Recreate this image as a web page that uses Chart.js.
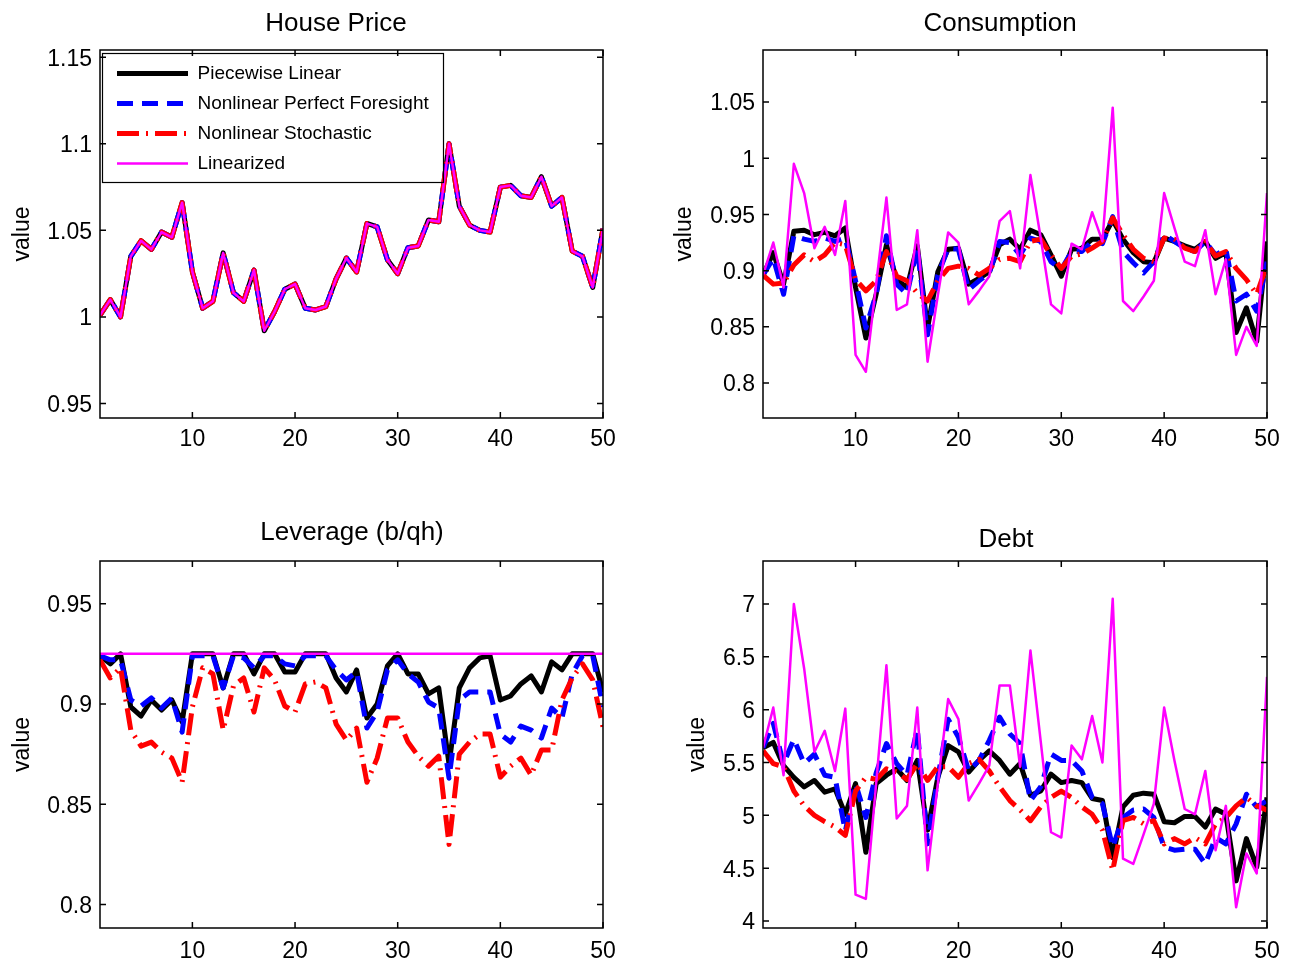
<!DOCTYPE html>
<html>
<head>
<meta charset="utf-8">
<title>Simulated paths</title>
<script src="https://cdn.jsdelivr.net/npm/chart.js@4.4.1/dist/chart.umd.min.js"></script>
<style>
    html, body { margin: 0; padding: 0; background: #fff; }
    #fig { position: relative; width: 1291px; height: 964px; overflow: hidden; }
    #fig canvas { position: absolute; }
</style>
</head>
<body>
<div id="fig">
    <canvas id="house" width="645" height="482" style="left:0px;top:0px"></canvas>
    <canvas id="cons" width="628" height="482" style="left:663px;top:0px"></canvas>
    <canvas id="lev" width="645" height="482" style="left:0px;top:482px"></canvas>
    <canvas id="debt" width="628" height="482" style="left:663px;top:482px"></canvas>
</div>
<script>
// simulation periods and tick labels
var periods = [1, 2, 3, 4, 5, 6, 7, 8, 9, 10, 11, 12, 13, 14, 15, 16, 17, 18, 19, 20,
    21, 22, 23, 24, 25, 26, 27, 28, 29, 30, 31, 32, 33, 34, 35, 36, 37, 38, 39, 40,
    41, 42, 43, 44, 45, 46, 47, 48, 49, 50];
var xTicks = [10, 20, 30, 40, 50];
var houseTicks = [0.95, 1, 1.05, 1.1, 1.15];
var consTicks = [0.8, 0.85, 0.9, 0.95, 1, 1.05];
var levTicks = [0.8, 0.85, 0.9, 0.95];
var debtTicks = [4, 4.5, 5, 5.5, 6, 6.5, 7];

var seriesNames = ['Piecewise Linear', 'Nonlinear Perfect Foresight', 'Nonlinear Stochastic', 'Linearized'];

// house price: the four solutions lie on top of each other
var housePrice = [1.001, 1.010, 1.000, 1.035, 1.044, 1.039, 1.049, 1.046, 1.066, 1.026,
    1.005, 1.009, 1.037, 1.014, 1.009, 1.027, 0.992, 1.003, 1.016, 1.019,
    1.005, 1.004, 1.006, 1.022, 1.034, 1.026, 1.054, 1.052, 1.033, 1.025,
    1.040, 1.041, 1.056, 1.055, 1.100, 1.064, 1.053, 1.050, 1.049, 1.075,
    1.076, 1.070, 1.069, 1.081, 1.064, 1.069, 1.038, 1.035, 1.017, 1.051];

// consumption
var consPiecewise = [0.896, 0.916, 0.888, 0.935, 0.936, 0.932, 0.934, 0.931, 0.938, 0.885,
    0.840, 0.879, 0.923, 0.892, 0.885, 0.922, 0.849, 0.899, 0.919, 0.920,
    0.888, 0.893, 0.899, 0.923, 0.928, 0.919, 0.936, 0.932, 0.914, 0.895,
    0.919, 0.920, 0.928, 0.928, 0.945, 0.928, 0.916, 0.908, 0.907, 0.929,
    0.926, 0.922, 0.919, 0.926, 0.911, 0.916, 0.845, 0.867, 0.837, 0.926];
var consPerfect = [0.896, 0.911, 0.879, 0.931, 0.928, 0.926, 0.929, 0.926, 0.929, 0.891,
    0.849, 0.879, 0.931, 0.888, 0.879, 0.920, 0.843, 0.896, 0.920, 0.919,
    0.883, 0.891, 0.898, 0.926, 0.925, 0.914, 0.929, 0.926, 0.908, 0.901,
    0.917, 0.917, 0.926, 0.924, 0.948, 0.917, 0.907, 0.898, 0.908, 0.932,
    0.926, 0.920, 0.917, 0.926, 0.914, 0.919, 0.873, 0.879, 0.864, 0.908];
var consStochastic = [0.896, 0.888, 0.889, 0.905, 0.914, 0.908, 0.914, 0.925, 0.923, 0.892,
    0.882, 0.891, 0.917, 0.895, 0.891, 0.880, 0.873, 0.891, 0.902, 0.904,
    0.902, 0.896, 0.902, 0.910, 0.911, 0.908, 0.926, 0.928, 0.914, 0.902,
    0.913, 0.915, 0.920, 0.926, 0.947, 0.932, 0.919, 0.911, 0.908, 0.929,
    0.928, 0.920, 0.917, 0.926, 0.913, 0.917, 0.902, 0.892, 0.879, 0.905];
var consLinearized = [0.896, 0.925, 0.885, 0.995, 0.969, 0.920, 0.939, 0.914, 0.962, 0.825,
    0.810, 0.888, 0.965, 0.865, 0.870, 0.936, 0.819, 0.878, 0.934, 0.925,
    0.870, 0.882, 0.895, 0.944, 0.953, 0.902, 0.985, 0.929, 0.870, 0.862,
    0.924, 0.919, 0.952, 0.926, 1.045, 0.873, 0.864, 0.877, 0.891, 0.969,
    0.938, 0.908, 0.904, 0.936, 0.879, 0.910, 0.825, 0.850, 0.833, 0.969];

// leverage (b/qh)
var levPiecewise = [0.924, 0.920, 0.925, 0.8985, 0.894, 0.902, 0.897, 0.902, 0.891, 0.925,
    0.925, 0.925, 0.908, 0.925, 0.925, 0.915, 0.925, 0.925, 0.916, 0.916,
    0.925, 0.925, 0.925, 0.913, 0.906, 0.917, 0.893, 0.900, 0.919, 0.925,
    0.915, 0.915, 0.905, 0.908, 0.870, 0.908, 0.918, 0.923, 0.924, 0.902,
    0.904, 0.910, 0.914, 0.906, 0.921, 0.917, 0.925, 0.925, 0.925, 0.906];
var levPerfect = [0.924, 0.922, 0.922, 0.902, 0.899, 0.903, 0.898, 0.903, 0.886, 0.924,
    0.924, 0.924, 0.908, 0.924, 0.923, 0.918, 0.924, 0.924, 0.920, 0.919,
    0.924, 0.924, 0.924, 0.917, 0.912, 0.916, 0.888, 0.896, 0.917, 0.922,
    0.915, 0.911, 0.901, 0.898, 0.863, 0.902, 0.906, 0.906, 0.906, 0.885,
    0.881, 0.889, 0.887, 0.883, 0.898, 0.893, 0.915, 0.924, 0.924, 0.8985];
var levStochastic = [0.922, 0.913, 0.918, 0.887, 0.879, 0.881, 0.876, 0.873, 0.861, 0.8985,
    0.918, 0.915, 0.887, 0.909, 0.913, 0.896, 0.918, 0.912, 0.899, 0.896,
    0.910, 0.911, 0.908, 0.890, 0.882, 0.888, 0.861, 0.873, 0.893, 0.893,
    0.881, 0.874, 0.869, 0.874, 0.830, 0.875, 0.881, 0.885, 0.885, 0.8635,
    0.869, 0.873, 0.8645, 0.877, 0.877, 0.902, 0.913, 0.920, 0.912, 0.8885];
var levLinearized = [0.925, 0.925, 0.925, 0.925, 0.925, 0.925, 0.925, 0.925, 0.925, 0.925,
    0.925, 0.925, 0.925, 0.925, 0.925, 0.925, 0.925, 0.925, 0.925, 0.925,
    0.925, 0.925, 0.925, 0.925, 0.925, 0.925, 0.925, 0.925, 0.925, 0.925,
    0.925, 0.925, 0.925, 0.925, 0.925, 0.925, 0.925, 0.925, 0.925, 0.925,
    0.925, 0.925, 0.925, 0.925, 0.925, 0.925, 0.925, 0.925, 0.925, 0.925];

// debt
var debtPiecewise = [5.64, 5.69, 5.47, 5.36, 5.27, 5.33, 5.22, 5.25, 5.01, 5.30,
    4.65, 5.30, 5.38, 5.44, 5.33, 5.52, 4.86, 5.36, 5.66, 5.60,
    5.41, 5.52, 5.61, 5.52, 5.39, 5.49, 5.19, 5.23, 5.39, 5.31,
    5.33, 5.31, 5.16, 5.14, 4.60, 5.08, 5.19, 5.21, 5.20, 4.94,
    4.93, 4.99, 4.99, 4.89, 5.06, 5.01, 4.38, 4.78, 4.51, 5.17];
var debtPerfect = [5.64, 5.87, 5.49, 5.72, 5.49, 5.58, 5.38, 5.36, 4.85, 5.30,
    4.98, 5.40, 5.68, 5.49, 5.38, 5.82, 4.73, 5.36, 5.91, 5.74,
    5.42, 5.52, 5.71, 5.93, 5.77, 5.68, 5.14, 5.27, 5.58, 5.52,
    5.52, 5.42, 5.17, 5.11, 4.70, 4.98, 5.05, 5.06, 4.98, 4.70,
    4.67, 4.68, 4.68, 4.54, 4.79, 4.73, 4.92, 5.20, 5.08, 5.14];
var debtStochastic = [5.61, 5.49, 5.46, 5.23, 5.09, 5.00, 4.94, 4.89, 4.81, 5.23,
    5.36, 5.34, 5.44, 5.41, 5.34, 5.49, 5.33, 5.46, 5.46, 5.36,
    5.49, 5.53, 5.42, 5.27, 5.14, 5.05, 4.95, 5.08, 5.17, 5.23,
    5.17, 5.08, 5.01, 4.86, 4.48, 4.95, 4.98, 4.92, 4.95, 4.73,
    4.78, 4.73, 4.79, 4.73, 4.92, 4.98, 5.09, 5.17, 5.09, 5.05];
var debtLinearized = [5.64, 6.02, 5.38, 7.00, 6.39, 5.60, 5.80, 5.42, 6.01, 4.25,
    4.21, 5.30, 6.42, 4.97, 5.09, 6.02, 4.48, 5.30, 6.10, 5.91,
    5.14, 5.30, 5.47, 6.23, 6.23, 5.46, 6.56, 5.70, 4.84, 4.79,
    5.66, 5.53, 5.94, 5.50, 7.05, 4.59, 4.54, 4.82, 5.11, 6.02,
    5.52, 5.06, 5.01, 5.42, 4.67, 5.09, 4.13, 4.64, 4.45, 6.31];

// line styles, same order as seriesNames
var lineStyles = [
    { color: '#000000', width: 5, dash: [] },
    { color: '#0000ff', width: 5, dash: [16, 9] },
    { color: '#ff0000', width: 5, dash: [22, 7, 2, 7] },
    { color: '#ff00ff', width: 2.5, dash: [] }
];

var FONT = '"Liberation Sans", Arial, Helvetica, sans-serif';
Chart.defaults.font.family = FONT;
Chart.defaults.color = '#000';

// box around the axes with inward tick marks, like matlab
var matlabAxes = {
    id: 'matlabAxes',
    afterLayout: function (chart, args, opts) {
        // put the legend inside the top-left corner of the plot
        if (opts.legendInside && chart.legend) {
            var a = chart.chartArea, lg = chart.legend;
            lg.left = a.left + 6;
            lg.top = a.top + 3;
            lg.right = a.right;
            lg.bottom = a.bottom;
            lg.width = lg.right - lg.left;
            lg.height = lg.bottom - lg.top;
        }
    },
    afterDraw: function (chart, args, opts) {
        var ctx = chart.ctx, a = chart.chartArea;
        var xs = chart.scales.x, ys = chart.scales.y;
        ctx.save();
        ctx.setLineDash([]);
        ctx.strokeStyle = '#000';
        ctx.lineWidth = 1.5;
        ctx.beginPath();
        xs.ticks.forEach(function (t) {
            var px = xs.getPixelForValue(t.value);
            ctx.moveTo(px, a.bottom); ctx.lineTo(px, a.bottom - 6);
            ctx.moveTo(px, a.top); ctx.lineTo(px, a.top + 6);
        });
        ys.ticks.forEach(function (t) {
            var py = ys.getPixelForValue(t.value);
            ctx.moveTo(a.left, py); ctx.lineTo(a.left + 6, py);
            ctx.moveTo(a.right, py); ctx.lineTo(a.right - 6, py);
        });
        ctx.stroke();
        ctx.strokeRect(a.left, a.top, a.right - a.left, a.bottom - a.top);
        if (opts.legendInside) {
            ctx.lineWidth = 1.2;
            ctx.strokeRect(a.left + 2.5, a.top + 3.5, 341, 129);
        }
        // panel title
        ctx.fillStyle = '#000';
        ctx.font = '26px ' + FONT;
        ctx.textAlign = 'center';
        ctx.textBaseline = 'alphabetic';
        ctx.fillText(opts.title, opts.titleX, opts.titleY);
        ctx.restore();
    }
};

// legend samples take width and dash from the dataset line
function lineLegendLabels(chart) {
    var items = Chart.defaults.plugins.legend.labels.generateLabels(chart);
    items.forEach(function (it) {
        var ds = chart.data.datasets[it.datasetIndex];
        it.pointStyle = 'line';
        it.strokeStyle = ds.borderColor;
        it.lineWidth = ds.borderWidth;
        it.lineDash = ds.borderDash;
        it.lineCap = 'butt';
    });
    return items;
}

function buildPanel(p) {
    var datasets = p.series.map(function (values, k) {
        var st = lineStyles[k];
        return {
            label: seriesNames[k],
            data: values,
            borderColor: st.color,
            backgroundColor: st.color,
            borderWidth: st.width,
            borderDash: st.dash,
            borderCapStyle: 'butt',
            borderJoinStyle: 'round',
            pointRadius: 0,
            pointHoverRadius: 0,
            tension: 0,
            fill: false,
            order: 4 - k // linearized drawn last, on top
        };
    });

    new Chart(document.getElementById(p.id), {
        type: 'line',
        data: { labels: periods, datasets: datasets },
        plugins: [matlabAxes],
        options: {
            responsive: false,
            animation: false,
            devicePixelRatio: 1,
            layout: { padding: { left: 0, top: p.padTop, right: p.padRight, bottom: 0 } },
            scales: {
                x: {
                    type: 'linear',
                    min: 1,
                    max: 50,
                    grid: { display: false, drawTicks: false },
                    border: { display: false },
                    afterBuildTicks: function (scale) {
                        scale.ticks = xTicks.map(function (v) { return { value: v }; });
                    },
                    afterFit: function (scale) { scale.height = p.xHeight; },
                    ticks: {
                        autoSkip: false,
                        maxRotation: 0,
                        padding: p.xPad,
                        font: { size: 23 },
                        callback: function (v) { return String(v); }
                    }
                },
                y: {
                    min: p.yMin,
                    max: p.yMax,
                    grid: { display: false, drawTicks: false },
                    border: { display: false },
                    afterBuildTicks: function (scale) {
                        scale.ticks = p.yTicks.map(function (v) { return { value: v }; });
                    },
                    afterFit: function (scale) { scale.width = 100; },
                    ticks: {
                        padding: 8,
                        labelOffset: 2,
                        font: { size: 23 },
                        callback: function (v) { return String(v); }
                    },
                    title: {
                        display: true,
                        text: 'value',
                        font: { size: 23 },
                        padding: { top: p.labelPad, bottom: 0 }
                    }
                }
            },
            plugins: {
                legend: {
                    display: p.legend,
                    position: 'chartArea',
                    align: 'start',
                    labels: {
                        color: '#000',
                        font: { size: 19 },
                        usePointStyle: true,
                        pointStyle: 'line',
                        pointStyleWidth: 71,
                        padding: 11,
                        generateLabels: lineLegendLabels,
                        sort: function (a, b) { return a.datasetIndex - b.datasetIndex; }
                    }
                },
                tooltip: { enabled: false },
                matlabAxes: {
                    legendInside: p.legend,
                    title: p.title,
                    titleX: p.titleX,
                    titleY: p.titleY
                }
            }
        }
    });
}

buildPanel({ id: 'house', title: 'House Price', titleX: 336, titleY: 31,
    series: [housePrice, housePrice, housePrice, housePrice],
    yTicks: houseTicks, yMin: 0.9416, yMax: 1.1542,
    padTop: 50, padRight: 42, xHeight: 64, xPad: 8, labelPad: 9, legend: true });

buildPanel({ id: 'cons', title: 'Consumption', titleX: 337, titleY: 31,
    series: [consPiecewise, consPerfect, consStochastic, consLinearized],
    yTicks: consTicks, yMin: 0.7689, yMax: 1.0963,
    padTop: 50, padRight: 24, xHeight: 64, xPad: 8, labelPad: 8, legend: false });

buildPanel({ id: 'lev', title: 'Leverage (b/qh)', titleX: 352, titleY: 58,
    series: [levPiecewise, levPerfect, levStochastic, levLinearized],
    yTicks: levTicks, yMin: 0.7883, yMax: 0.9713,
    padTop: 79, padRight: 42, xHeight: 36, xPad: 10, labelPad: 9, legend: false });

buildPanel({ id: 'debt', title: 'Debt', titleX: 343, titleY: 65,
    series: [debtPiecewise, debtPerfect, debtStochastic, debtLinearized],
    yTicks: debtTicks, yMin: 3.934, yMax: 7.407,
    padTop: 79, padRight: 24, xHeight: 36, xPad: 10, labelPad: 21, legend: false });
</script>
</body>
</html>
